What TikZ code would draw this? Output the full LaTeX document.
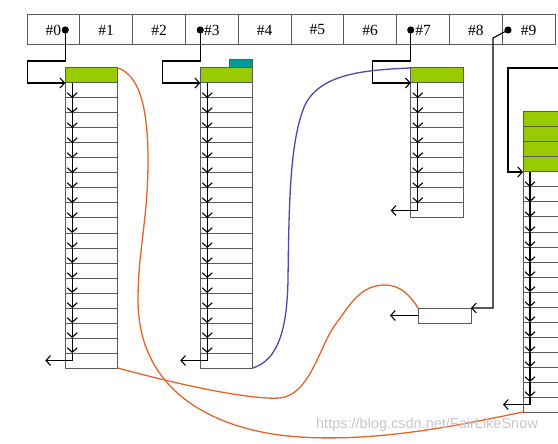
\documentclass[tikz,border=0pt]{standalone}
\usepackage{fontspec}
\setmainfont{Liberation Serif}
\newfontfamily\wmfont{Liberation Sans}
\usepackage{tikz}
\usetikzlibrary{shapes, arrows.meta}
\usetikzlibrary{positioning}

\definecolor{hdgreen}{HTML}{99CC00}
\definecolor{tagteal}{HTML}{009999}
\definecolor{linkred}{HTML}{E0642E}
\definecolor{linkblue}{HTML}{4B4BA0}
\definecolor{boxgray}{HTML}{5A5A5A}

\begin{document}
\begin{tikzpicture}[x=1pt, y=-1pt,
  >={Straight Barb[length=4.5pt,width=10pt]},
  cell/.style={draw=boxgray, line width=1pt, minimum width=52.8pt, minimum height=30pt, inner sep=0pt, outer sep=0pt, font=\fontsize{15.5}{15.5}\selectfont},
  slot/.style={draw=boxgray, line width=1pt, minimum width=52.5pt, minimum height=15pt, inner sep=0pt, outer sep=0pt},
  head/.style={slot, fill=hdgreen},
  tag/.style={draw=boxgray, line width=1pt, fill=tagteal, minimum width=23pt, minimum height=8pt, inner sep=0pt, outer sep=0pt},
  ptr/.style={->, line width=1.1pt},
  link/.style={line width=1.3pt}]
\useasboundingbox (0,0) rectangle (558,444);
\clip (0,0) rectangle (558,444);

% hash table
\foreach \i in {0,...,9}
  \node[cell] (h\i) at ({53.4+52.8*\i},30) {\#\i};

% first list
\node[head] (la0) at (91.5,75.5) {};
\foreach \j [remember=\j as \k (initially 0)] in {1,...,19}
  \node[slot, below=0pt of la\k] (la\j) {};
\foreach \j in {1,...,18}
  \draw[ptr] ([xshift=7pt]la\j.north west) -- ([xshift=7pt]la\j.south west);
\draw[ptr] ([xshift=7pt]la19.north west) -- ([xshift=7pt]la19.west) -- ([xshift=-20pt]la19.west);

% second list
\node[head] (lb0) at (226.5,75.5) {};
\node[tag, above left=0pt of lb0.north east] (lbt) {};
\foreach \j [remember=\j as \k (initially 0)] in {1,...,19}
  \node[slot, below=0pt of lb\k] (lb\j) {};
\foreach \j in {1,...,18}
  \draw[ptr] ([xshift=7pt]lb\j.north west) -- ([xshift=7pt]lb\j.south west);
\draw[ptr] ([xshift=7pt]lb19.north west) -- ([xshift=7pt]lb19.west) -- ([xshift=-20pt]lb19.west);

% third list
\node[head] (lc0) at (437,75.5) {};
\foreach \j [remember=\j as \k (initially 0)] in {1,...,9}
  \node[slot, below=0pt of lc\k] (lc\j) {};
\foreach \j in {1,...,8}
  \draw[ptr] ([xshift=7pt]lc\j.north west) -- ([xshift=7pt]lc\j.south west);
\draw[ptr] ([xshift=7pt]lc9.north west) -- ([xshift=7pt]lc9.west) -- ([xshift=-20pt]lc9.west);

% fourth list
\node[head] (ld0) at (549.25,119.5) {};
\foreach \j [remember=\j as \k (initially 0)] in {1,...,3}
  \node[head, below=0pt of ld\k] (ld\j) {};
\foreach \j [remember=\j as \k (initially 3)] in {4,...,19}
  \node[slot, below=0pt of ld\k] (ld\j) {};
\foreach \j in {4,...,18}
  \draw[ptr] ([xshift=7pt]ld\j.north west) -- ([xshift=7pt]ld\j.south west);
\draw[ptr] ([xshift=7pt]ld19.north west) -- ([xshift=7pt]ld19.west) -- ([xshift=-20pt]ld19.west);

% single entry
\node[slot, minimum width=53pt] (sb) at (444.5,315.5) {};
\draw[ptr] (sb.west) -- ++(-28,0);

% bucket pointers
\coordinate (d0) at (la0.west |- h0.center);
\coordinate (d3) at (lb0.west |- h3.center);
\coordinate (d7) at (lc0.west |- h7.center);
\coordinate (d9) at ([xshift=-20.6pt]h9.center);
\coordinate (d10) at (570,68);
\foreach \d in {d0,d3,d7,d9}
  \fill (\d) circle (3.6pt);
\draw[ptr] (d0) -- ++(0,31) -| ([xshift=-38pt]la0.south west) -- (la0.south west);
\draw[ptr] (d3) -- ++(0,31) -| ([xshift=-38pt]lb0.south west) -- (lb0.south west);
\draw[ptr] (d7) -- ++(0,31) -| ([xshift=-38pt]lc0.south west) -- (lc0.south west);
\draw[ptr] (d9) -- ++(-15,8) |- (sb.north east);
\draw[ptr] (d10) -| ([xshift=-15pt]ld3.south west) -- (ld3.south west);

% links between entries
\draw[link, linkred] (la0.north east) .. controls (140,75) and (148,110) .. (148,160)
  .. controls (148,220) and (138,250) .. (138,300)
  .. controls (138,395) and (220,432) .. (300,437)
  .. controls (380,442) and (460,425) .. (ld19.south west);
\draw[link, linkred] (la19.south east) .. controls (180,385) and (250,400) .. (280,398)
  .. controls (310,395) and (320,345) .. (335,325)
  .. controls (350,305) and (360,285) .. (385,285)
  .. controls (400,285) and (410,295) .. (sb.north west);
\draw[link, linkblue] (lb19.south east) .. controls (278,360) and (287,330) .. (288,280)
  .. controls (289,200) and (290,140) .. (305,105)
  .. controls (320,75) and (360,70) .. (lc0.north west);

\node[text=black!22, font=\wmfont\fontsize{14.5}{14.5}\selectfont] (wm) at (427,425) {https://blog.csdn.net/FairLikeSnow};
\end{tikzpicture}
\end{document}
